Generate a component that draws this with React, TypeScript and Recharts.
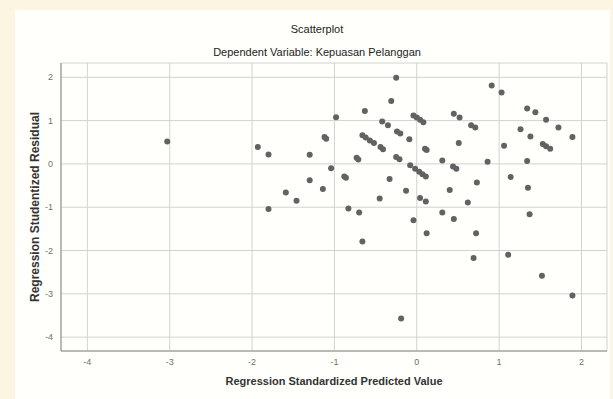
import React from "react";
import {
  ScatterChart,
  Scatter,
  XAxis,
  YAxis,
  CartesianGrid,
} from "recharts";

// standardized predicted value (x) / studentized residual (y)
const predictedValues = [
  -3.03, -1.93, -1.8, -1.8, -1.59, -1.46, -1.3, -1.3, -1.14, -1.12, -1.1, -1.04,
  -0.98, -0.88, -0.86, -0.83, -0.73, -0.71, -0.7, -0.66, -0.63, -0.66, -0.62,
  -0.57, -0.52, -0.45, -0.42, -0.35, -0.44, -0.41, -0.33, -0.31, -0.25, -0.24,
  -0.2, -0.25, -0.21, -0.13, -0.09, -0.08, -0.19, -0.04, 0.0, 0.04, 0.08, -0.02,
  0.03, 0.07, 0.11, -0.04, 0.04, 0.11, 0.1, 0.12, 0.12, 0.31, 0.31, 0.4, 0.44,
  0.48, 0.45, 0.52, 0.51, 0.45, 0.62, 0.66, 0.71, 0.73, 0.72, 0.69, 0.86, 0.91,
  1.03, 1.06, 1.14, 1.11, 1.26, 1.34, 1.44, 1.38, 1.34, 1.35, 1.37, 1.53, 1.57,
  1.62, 1.57, 1.72, 1.89, 1.52, 1.89,
];

const studentizedResiduals = [
  0.52, 0.39, 0.22, -1.04, -0.66, -0.85, 0.21, -0.38, -0.58, 0.62, 0.58, -0.1,
  1.08, -0.29, -0.32, -1.03, 0.14, 0.1, -1.12, -1.79, 1.22, 0.66, 0.61, 0.54,
  0.48, -0.8, 0.98, 0.89, 0.39, 0.34, -0.35, 1.45, 1.99, 0.75, 0.7, 0.16, 0.11,
  -0.62, 0.57, -0.03, -3.57, 1.12, 1.07, 1.02, 0.96, -0.11, -0.18, -0.24, -0.29,
  -1.3, -0.79, -0.87, 0.35, 0.32, -1.6, 0.08, -1.12, -0.6, -0.06, -0.11, 1.16,
  1.07, 0.48, -1.27, -0.89, 0.89, 0.84, -0.43, -1.6, -2.17, 0.05, 1.81, 1.65,
  0.42, -0.3, -2.1, 0.8, 1.28, 1.19, 0.63, 0.07, -0.55, -1.16, 0.46, 0.41, 0.35,
  1.02, 0.84, 0.62, -2.58, -3.04,
];

const xTicks = [-4, -3, -2, -1, 0, 1, 2];
const yTicks = [-4, -3, -2, -1, 0, 1, 2];

const points = predictedValues.map((x, i) => ({ x, y: studentizedResiduals[i] }));

const tickStyle = { fill: "#6f6f6f", fontSize: 9, fontFamily: "Liberation Sans, Arial" };

function Dot(props: any) {
  return <circle cx={props.cx} cy={props.cy} r={3} fill="#626262" />;
}

export default function App() {
  return (
    <div
      style={{
        position: "absolute",
        left: 0,
        top: 0,
        width: 613,
        height: 399,
        background: "#fbf5e2",
        fontFamily: "Liberation Sans, Arial, sans-serif",
      }}
    >
      <div
        style={{
          position: "absolute",
          left: 15,
          top: 10,
          width: 595,
          height: 389,
          background: "#fffffc",
        }}
      />
      <div
        style={{
          position: "absolute",
          left: 0,
          width: 634,
          top: 23,
          textAlign: "center",
          fontSize: 11,
          color: "#222",
        }}
      >
        Scatterplot
      </div>
      <div
        style={{
          position: "absolute",
          left: 0,
          width: 634,
          top: 46,
          textAlign: "center",
          fontSize: 11,
          color: "#222",
        }}
      >
        Dependent Variable: Kepuasan Pelanggan
      </div>
      <div style={{ position: "absolute", left: 0, top: 0 }}>
        <ScatterChart
          width={613}
          height={399}
          margin={{ top: 63, right: 6, bottom: 28, left: 41 }}
        >
          <CartesianGrid stroke="#d2d2d2" strokeWidth={1} />
          <XAxis
            type="number"
            dataKey="x"
            domain={[-4.32, 2.31]}
            ticks={xTicks}
            allowDataOverflow
            height={20}
            tick={tickStyle}
            tickLine={false}
            axisLine={{ stroke: "#8a8a8a" }}
          />
          <YAxis
            type="number"
            dataKey="y"
            domain={[-4.32, 2.33]}
            ticks={yTicks}
            allowDataOverflow
            width={20}
            tick={tickStyle}
            tickLine={false}
            axisLine={{ stroke: "#8a8a8a" }}
          />
          <Scatter data={points} shape={<Dot />} isAnimationActive={false} />
        </ScatterChart>
      </div>
      <div
        style={{
          position: "absolute",
          left: 61,
          width: 546,
          top: 375,
          textAlign: "center",
          fontSize: 11,
          fontWeight: "bold",
          color: "#333",
        }}
      >
        Regression Standardized Predicted Value
      </div>
      <div
        style={{
          position: "absolute",
          left: 35,
          top: 207,
          transform: "translate(-50%, -50%) rotate(-90deg)",
          whiteSpace: "nowrap",
          fontSize: 12,
          fontWeight: "bold",
          color: "#333",
        }}
      >
        Regression Studentized Residual
      </div>
    </div>
  );
}
